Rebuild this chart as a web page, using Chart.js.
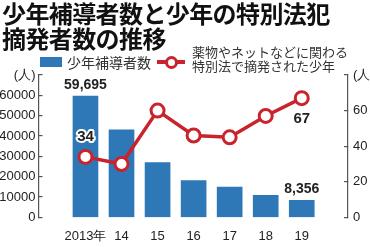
<!DOCTYPE html>
<html lang="ja">
<head>
<meta charset="utf-8">
<script src="https://cdn.jsdelivr.net/npm/chart.js@4"></script>
<style>
  html, body { margin: 0; padding: 0; background: #fff; }
  #wrap { position: relative; width: 370px; height: 247px; overflow: hidden; }
  #chart { position: absolute; left: 0; top: 0; }
  .title { position: absolute; left: 2px; top: 0; font: 700 24px/25px "Noto Sans CJK JP", sans-serif; letter-spacing: -0.6px; color: #111; white-space: nowrap; }
  .lg { position: absolute; font-family: "Noto Sans CJK JP", sans-serif; color: #333; white-space: nowrap; }
</style>
</head>
<body>
<div id="wrap">
  <canvas id="chart" width="370" height="247"></canvas>
  <div class="title">少年補導者数と少年の特別法犯<br>摘発者数の推移</div>
  <!-- legend -->
  <div style="position:absolute;left:40px;top:57px;width:22px;height:10px;background:#2e78b7"></div>
  <div class="lg" style="left:67px;top:52px;font-size:14px;line-height:20px">少年補導者数</div>
  <div style="position:absolute;left:157px;top:60px;width:28px;height:4px;background:#c9232b"></div>
  <div style="position:absolute;left:165px;top:56px;width:7px;height:7px;border:3px solid #c9232b;border-radius:50%;background:#fff"></div>
  <div class="lg" style="left:192px;top:45px;font-size:13px;line-height:14px">薬物やネットなどに関わる<br>特別法で摘発された少年</div>
</div>
<script>
// data
const years = ["2013年", "14", "15", "16", "17", "18", "19"];
const guidedYouth = [59695, 43000, 27000, 18100, 14900, 10900, 8356];
const specialLawYouth = [34, 30, 60, 46, 45, 57, 67];
const leftTicks = [0, 10000, 20000, 30000, 40000, 50000, 60000, 70000];
const rightTicks = [0, 20, 40, 60, 80];
const unitLabel = "(人)";

const blue = "#2e78b7";
const red = "#c9232b";
const axisColor = "#555";
const tickFont = { family: "'Liberation Sans', Arial, sans-serif", size: 13 };

// value labels at first and last category
const valueLabels = {
  id: "valueLabels",
  afterDatasetsDraw(chart) {
    const c = chart.ctx;
    const x = chart.scales.x, y = chart.scales.y, y2 = chart.scales.y2;
    c.save();
    c.font = "bold 14px 'Liberation Sans', Arial, sans-serif";
    c.textAlign = "center";
    c.textBaseline = "middle";
    c.lineJoin = "round";
    [0, years.length - 1].forEach(i => {
      // bar value above the bar
      const bx = x.getPixelForValue(i);
      const by = y.getPixelForValue(guidedYouth[i]) - 11;
      c.fillStyle = "#222";
      c.fillText(guidedYouth[i].toLocaleString("en-US"), bx, by);
      // line value
      const py = y2.getPixelForValue(specialLawYouth[i]);
      const ly = i === 0 ? py - 20 : py + 21;
      c.font = "bold 15px 'Liberation Sans', Arial, sans-serif";
      c.strokeStyle = "#fff";
      c.lineWidth = 4;
      c.strokeText(String(specialLawYouth[i]), bx, ly);
      c.fillText(String(specialLawYouth[i]), bx, ly);
      c.font = "bold 14px 'Liberation Sans', Arial, sans-serif";
    });
    c.restore();
  }
};

new Chart(document.getElementById("chart"), {
  type: "bar",
  data: {
    datasets: [
      {
        type: "line",
        label: "薬物やネットなどに関わる特別法で摘発された少年",
        data: specialLawYouth.map((v, i) => ({ x: i, y: v })),
        yAxisID: "y2",
        borderColor: red,
        borderWidth: 3.5,
        pointRadius: 6.5,
        pointBorderWidth: 3,
        pointBackgroundColor: "#fff",
        pointBorderColor: red,
        tension: 0,
        order: 0,
      },
      {
        label: "少年補導者数",
        data: guidedYouth.map((v, i) => ({ x: i, y: v })),
        yAxisID: "y",
        backgroundColor: blue,
        barThickness: 25,
        order: 1,
      },
    ],
  },
  options: {
    responsive: false,
    animation: false,
    layout: { padding: { top: 75, bottom: 0, left: 0, right: 0 } },
    plugins: { legend: { display: false }, tooltip: { enabled: false } },
    scales: {
      x: {
        type: "linear",
        min: -0.69,
        max: 6.67,
        afterBuildTicks: s => { s.ticks = years.map((_, i) => ({ value: i })); },
        ticks: { callback: v => years[v], color: "#222", font: tickFont, padding: 3, maxRotation: 0, autoSkip: false },
        grid: { display: false },
        border: { display: false },
      },
      y: {
        position: "left",
        min: 0,
        max: 70000,
        afterBuildTicks: s => { s.ticks = leftTicks.map(v => ({ value: v })); },
        afterFit: s => { s.width = 38.5; },
        ticks: { callback: v => (v === 70000 ? unitLabel : String(v)), color: "#222", font: tickFont, padding: 7, autoSkip: false },
        grid: { drawOnChartArea: false, tickLength: -4, color: axisColor, lineWidth: 1.2 },
        border: { color: axisColor, width: 1.2 },
      },
      y2: {
        position: "right",
        min: 0,
        max: 80,
        afterBuildTicks: s => { s.ticks = rightTicks.map(v => ({ value: v })); },
        afterFit: s => { s.width = 22; },
        ticks: { callback: v => (v === 80 ? unitLabel : String(v)), color: "#222", font: tickFont, padding: 9, autoSkip: false },
        grid: { drawOnChartArea: false, tickLength: -4, color: axisColor, lineWidth: 1.2 },
        border: { color: axisColor, width: 1.2 },
      },
    },
  },
  plugins: [valueLabels],
});
</script>
</body>
</html>
